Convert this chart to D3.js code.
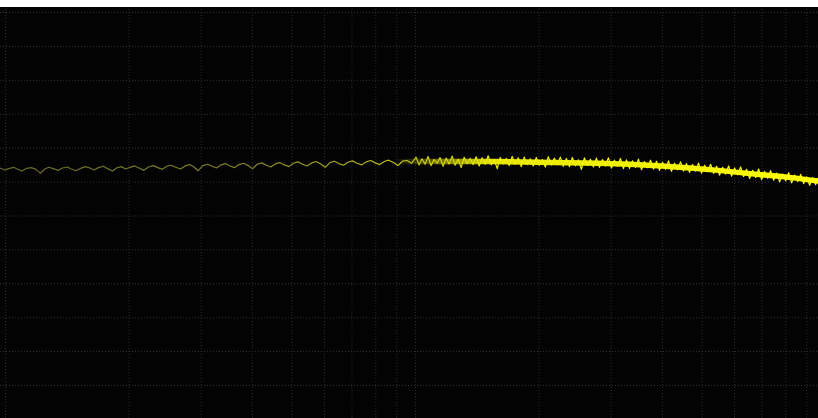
<!DOCTYPE html>
<html>
<head>
<meta charset="utf-8">
<script src="https://cdn.jsdelivr.net/npm/d3@7"></script>
<style>
  body { margin: 0; background: #fff; }
  svg { display: block; }
</style>
</head>
<body>
<svg id="scope" width="818" height="418"></svg>
<script>
// grid ticks
var freqTicks = [1,2,3,4,5,6,7,8,9,10,20,30,40,50,60,70,80,90];
var dbTicks = [0,-10,-20,-30,-40,-50,-60,-70,-80,-90,-100,-110];

// trace, low band (sparse bins)
var freqLo = [0.97,1.0,1.02,1.05,1.08,1.1,1.13,1.16,1.19,1.22,1.25,1.28,1.31,1.35,1.38,1.42,
  1.45,1.49,1.53,1.57,1.61,1.65,1.69,1.74,1.78,1.83,1.87,1.92,1.97,2.02,2.07,2.13,2.18,2.24,2.3,2.36,2.42,2.48,2.54,2.61,2.68,
  2.75,2.82,2.89,2.96,3.04,3.12,3.2,3.28,3.36,3.45,3.54,3.63,3.72,3.82,3.92,4.02,4.12,4.23,4.34,4.45,4.56,4.68,4.8,4.93,
  5.05,5.18,5.32,5.45,5.6,5.74,5.89,6.04,6.2,6.36,6.52,6.69,6.86,7.04,7.22,7.41,7.6,7.8,8.0,8.2,8.42,8.63,8.86,9.09,9.32,9.56,9.81];
var levelLo = [-46.0,-46.6,-46.2,-45.8,-46.5,-46.9,-46.1,-45.9,-46.4,-47.6,-46.3,-45.8,-46.2,-46.7,-46.0,-45.7,
  -46.3,-46.8,-46.1,-45.6,-46.0,-46.6,-45.9,-45.5,-46.2,-46.9,-46.0,-45.6,-46.3,-45.8,-45.4,-46.1,-46.7,-45.7,-45.3,-45.9,-46.4,-45.5,-45.2,-45.8,-46.3,
  -45.4,-45.0,-45.7,-46.8,-45.3,-44.9,-45.5,-46.0,-45.1,-44.7,-45.4,-45.9,-45.0,-44.6,-45.3,-46.2,-44.9,-44.5,-45.2,-45.7,-44.8,-44.4,-45.1,-45.6,
  -44.6,-44.2,-44.9,-45.4,-44.5,-44.1,-44.8,-45.8,-44.4,-44.0,-44.7,-45.2,-44.3,-43.9,-44.6,-45.1,-44.2,-43.8,-44.5,-45.0,-44.1,-43.7,-44.4,-45.3,-44.0,-43.8,-44.6];

// trace, high band (dense bins)
var freqHi = [10.06,10.23,10.4,10.58,10.76,10.94,11.13,11.32,11.51,11.71,
  11.91,12.11,12.32,12.53,12.74,12.96,13.18,13.4,13.63,13.86,
  14.1,14.34,14.58,14.83,15.08,15.34,15.6,15.87,16.14,16.41,
  16.69,16.97,17.26,17.56,17.86,18.16,18.47,18.78,19.1,19.43,
  19.76,20.1,20.44,20.79,21.14,21.5,21.87,22.24,22.62,23.0,
  23.4,23.8,24.2,24.61,25.03,25.46,25.89,26.33,26.78,27.24,
  27.7,28.17,28.65,29.14,29.63,30.14,30.65,31.17,31.7,32.24,
  32.79,33.35,33.92,34.49,35.08,35.68,36.28,36.9,37.53,38.17,
  38.82,39.48,40.15,40.83,41.53,42.23,42.95,43.68,44.43,45.18,
  45.95,46.73,47.53,48.34,49.16,50.0,50.85,51.71,52.59,53.49,
  54.4,55.32,56.26,57.22,58.19,59.18,60.19,61.21,62.25,63.31,
  64.39,65.48,66.6,67.73,68.88,70.05,71.24,72.45,73.68,74.94,
  76.21,77.5,78.82,80.16,81.53,82.91,84.32,85.76,87.22,88.7,
  90.21,91.74,93.3,94.89,96.5,98.14];
var levelHi = [-42.8,-45.1,-43.3,-44.9,-42.6,-45.3,-43.5,-44.6,-42.9,-45.5,
  -43.1,-44.8,-42.5,-45.2,-43.4,-45.9,-42.8,-44.7,-43.2,-45.0,
  -42.7,-45.4,-43.0,-44.9,-42.4,-45.1,-43.6,-46.2,-42.9,-44.8,
  -43.2,-45.3,-42.6,-44.9,-43.0,-45.6,-42.8,-45.0,-43.3,-45.4,
  -42.9,-45.2,-43.5,-45.7,-42.7,-45.1,-43.1,-44.9,-42.8,-45.5,
  -43.2,-45.6,-42.9,-45.3,-43.6,-46.4,-43.0,-45.2,-43.4,-45.7,
  -43.1,-45.8,-43.5,-45.4,-43.0,-46.0,-43.7,-45.5,-43.2,-46.2,
  -43.6,-46.1,-43.9,-45.8,-43.4,-46.5,-44.1,-45.9,-43.7,-46.3,
  -44.0,-46.7,-44.3,-46.4,-43.9,-47.0,-44.6,-46.5,-44.2,-46.9,
  -44.7,-47.3,-45.0,-46.9,-44.6,-47.5,-45.2,-47.1,-44.9,-47.6,
  -45.5,-48.1,-45.8,-47.8,-45.4,-48.4,-46.0,-48.0,-45.7,-48.5,
  -46.4,-49.1,-46.7,-48.8,-46.3,-49.4,-47.0,-49.0,-46.8,-49.6,
  -47.5,-50.1,-47.8,-49.8,-47.4,-50.4,-48.1,-50.0,-47.9,-50.6,
  -48.6,-51.1,-48.9,-50.9,-48.7,-51.3];

// envelope of the dense part
var bandFreq = [7,10,14,20,28,40,55,70,85,98];
var bandTop = [-43.6,-43.3,-43.3,-43.5,-43.8,-44.6,-45.9,-47.2,-48.2,-49.2];
var bandBottom = [-44.9,-44.9,-44.9,-45.1,-45.4,-46.2,-47.5,-48.8,-49.8,-50.8];

var svg = d3.select("#scope"),
    width = +svg.attr("width"),
    height = +svg.attr("height");

var x = d3.scaleLog().domain([1, 100]).range([5, 825]);
var y = d3.scaleLinear().domain([0, -110]).range([12, 385]);

var defs = svg.append("defs");
defs.append("clipPath").attr("id", "screen")
  .append("rect").attr("x", 0).attr("y", 7).attr("width", width).attr("height", height - 7);

var grad = defs.append("linearGradient").attr("id", "traceCol")
  .attr("gradientUnits", "userSpaceOnUse")
  .attr("x1", 0).attr("x2", width).attr("y1", 0).attr("y2", 0);
grad.append("stop").attr("offset", "0").attr("stop-color", "#66662a");
grad.append("stop").attr("offset", "0.3").attr("stop-color", "#808028");
grad.append("stop").attr("offset", "0.45").attr("stop-color", "#b0b01e");
grad.append("stop").attr("offset", "0.6").attr("stop-color", "#eeee08");
grad.append("stop").attr("offset", "1").attr("stop-color", "#ffff10");

var bandGrad = defs.append("linearGradient").attr("id", "bandCol")
  .attr("gradientUnits", "userSpaceOnUse")
  .attr("x1", 0).attr("x2", width).attr("y1", 0).attr("y2", 0);
bandGrad.append("stop").attr("offset", "0.48").attr("stop-color", "#e8e800").attr("stop-opacity", 0);
bandGrad.append("stop").attr("offset", "0.6").attr("stop-color", "#f0f000").attr("stop-opacity", 0.95);
bandGrad.append("stop").attr("offset", "1").attr("stop-color", "#ffff00").attr("stop-opacity", 1);

svg.append("rect")
  .attr("x", 0).attr("y", 7)
  .attr("width", width).attr("height", height - 7)
  .attr("fill", "#030303");

var g = svg.append("g").attr("clip-path", "url(#screen)");

// dotted graticule
var xGrid = g.append("g")
  .call(d3.axisBottom(x).tickValues(freqTicks).tickSize(height).tickFormat(""));
var yGrid = g.append("g")
  .call(d3.axisRight(y).tickValues(dbTicks).tickSize(width).tickFormat(""));
[xGrid, yGrid].forEach(function(ax) {
  ax.select(".domain").remove();
  ax.selectAll("line")
    .attr("stroke", "#2c2c2c")
    .attr("stroke-width", 1)
    .attr("stroke-dasharray", "1,2");
});
yGrid.selectAll("line").attr("stroke", "#333333");

// solid body of the dense trace
var band = bandFreq.map(function(f, i) { return {f: f, top: bandTop[i], bot: bandBottom[i]}; });
g.append("path")
  .datum(band)
  .attr("fill", "url(#bandCol)")
  .attr("d", d3.area()
    .curve(d3.curveMonotoneX)
    .x(function(d) { return x(d.f); })
    .y0(function(d) { return y(d.bot); })
    .y1(function(d) { return y(d.top); }));

var trace = freqLo.map(function(f, i) { return {f: f, v: levelLo[i]}; })
  .concat(freqHi.map(function(f, i) { return {f: f, v: levelHi[i]}; }));

g.append("path")
  .datum(trace)
  .attr("fill", "none")
  .attr("stroke", "url(#traceCol)")
  .attr("stroke-width", 1.2)
  .attr("stroke-linejoin", "round")
  .attr("d", d3.line()
    .x(function(d) { return x(d.f); })
    .y(function(d) { return y(d.v); }));
</script>
</body>
</html>
